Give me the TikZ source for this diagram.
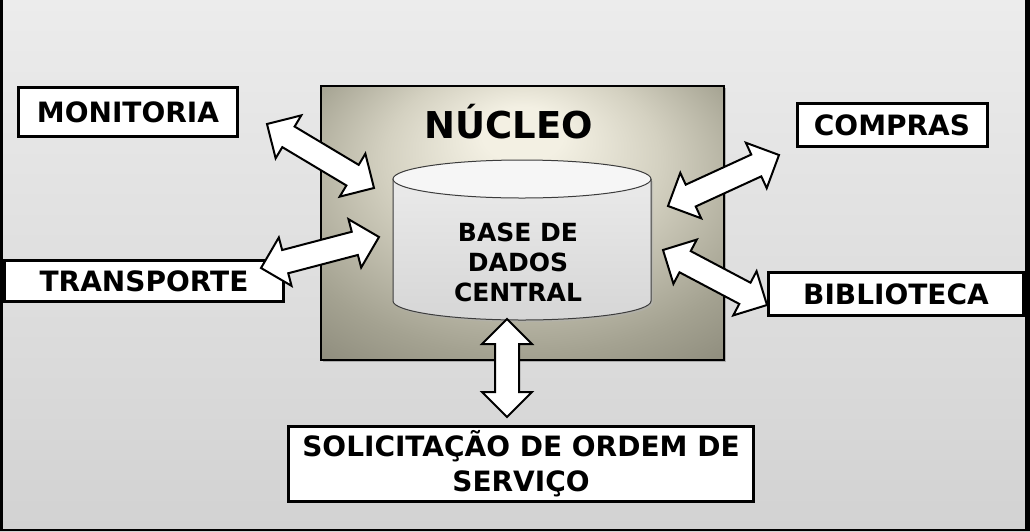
\documentclass[tikz,border=0pt]{standalone}
\usepackage{fontspec}
\setmainfont{DejaVu Sans}
\usetikzlibrary{positioning,calc,shapes.arrows}
\definecolor{bgtop}{RGB}{236,236,236}
\definecolor{bgbot}{RGB}{210,210,210}
\definecolor{glowA}{RGB}{243,240,227}
\definecolor{glowB}{RGB}{212,209,193}
\definecolor{glowC}{RGB}{164,162,145}
\definecolor{glowD}{RGB}{122,120,106}
\definecolor{cyltop}{RGB}{246,246,246}
\definecolor{cylhi}{RGB}{234,234,234}
\definecolor{cyllo}{RGB}{214,214,214}
\definecolor{cylline}{RGB}{60,60,60}
\pgfdeclareradialshading{nucleoglow}{\pgfpoint{0bp}{18bp}}{%
  color(0bp)=(glowA); color(5bp)=(glowA); color(17bp)=(glowB);
  color(31bp)=(glowC); color(46bp)=(glowD); color(50bp)=(glowD)}
\tikzset{
  setor/.style={draw=black, line width=3pt, fill=white, inner sep=0pt,
    font=\fontsize{28}{34}\selectfont\bfseries, text height=20pt, text depth=0pt},
  linkarrow/.style={double arrow, draw=black, fill=white, line width=2pt,
    inner xsep=0pt, inner ysep=11pt, text height=0pt, text depth=0pt,
    double arrow head extend=13pt, outer sep=0pt, double arrow tip angle=90},
}
\newcommand{\linkarrow}[3]{%
  \path let \p1=($(#2)-(#1)$), \n1={atan2(\y1,\x1)}, \n2={veclen(\x1,\y1)} in
    node[linkarrow, rotate=-\n1, minimum height=\n2] (#3) at ($(#1)!0.5!(#2)$) {};%
}

\begin{document}
\begin{tikzpicture}[x=1pt,y=1pt,yscale=-1]
	\useasboundingbox (0,0) rectangle (1030,531);
	
	%Shape: Background
	\shade [top color=bgtop, bottom color=bgbot] (0,0) rectangle (1030,531);
	\fill [black] (0,0) rectangle (3,531);
	\fill [black] (1025,0) rectangle (1030,531);
	\fill [black] (0,529) rectangle (1030,531);
	
	%Shape: Nucleo frame
	\fill [black!45, opacity=0.6] (323,88) rectangle (726,362);
	\draw [black, line width=1.5pt, shading=nucleoglow] (321,86) rectangle (724,360);
	% Text Node
	\node [anchor=base, font=\fontsize{37}{44}\selectfont\bfseries] (nucleo) at (509,138) {NÚCLEO};
	
	%Shape: Cylinder
	\fill [black!30, opacity=0.5] (395,181) -- (395,303) arc[start angle=180, end angle=0, x radius=129, y radius=19] -- (653,181) -- cycle;
	\shade [top color=cylhi, bottom color=cyllo]
	  (393,179) -- (393,301) arc[start angle=180, end angle=0, x radius=129, y radius=19] -- (651,179) -- cycle;
	\draw [cylline, line width=1pt]
	  (393,179) -- (393,301) arc[start angle=180, end angle=0, x radius=129, y radius=19] -- (651,179);
	\draw [fill=cyltop, draw=cylline, line width=1pt] (522,179) ellipse [x radius=129, y radius=19];
	% Text Node
	\node [align=center, font=\fontsize{25}{30}\selectfont\bfseries] (base) at (518,262) {BASE DE\\DADOS\\CENTRAL};
	
	% Text Node
	\node [setor, minimum width=219pt, minimum height=49pt] (monitoria) at (128,112) {MONITORIA};
	\node [setor, minimum width=279pt, minimum height=41pt] (transporte) at (144,281) {TRANSPORTE};
	\node [setor, minimum width=190pt, minimum height=43pt] (compras) at (892,125) {COMPRAS};
	\node [setor, minimum width=255pt, minimum height=43pt] (biblioteca) at (896,294) {BIBLIOTECA};
	\node [setor, minimum width=465pt, minimum height=75pt, align=center, text height=, text depth=] (solicitacao) at (521,464) {SOLICITAÇÃO DE ORDEM DE\\[1pt]SERVIÇO};
	
	%Arrows
	\coordinate (mon-a) at (267,124);   \coordinate (mon-b) at (374,188);
	\coordinate (tra-a) at (261,268);   \coordinate (tra-b) at (379,237);
	\coordinate (com-a) at (668,206);   \coordinate (com-b) at (779,155);
	\coordinate (bib-a) at (663,250);   \coordinate (bib-b) at (767,305);
	\coordinate (sol-a) at (507,319);   \coordinate (sol-b) at (507,417);
	\linkarrow{mon-a}{mon-b}{link-mon}
	\linkarrow{tra-a}{tra-b}{link-tra}
	\linkarrow{com-a}{com-b}{link-com}
	\linkarrow{bib-a}{bib-b}{link-bib}
	\linkarrow{sol-a}{sol-b}{link-sol}
	
\end{tikzpicture}
\end{document}
